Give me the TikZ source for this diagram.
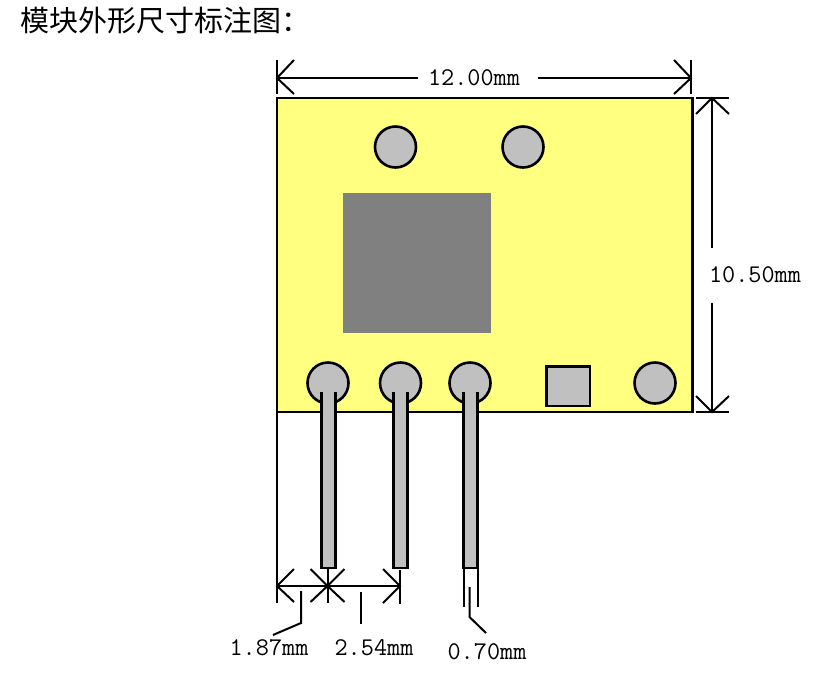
\documentclass[tikz,border=0pt]{standalone}
\usepackage{fontspec}
\newfontfamily\cjk{Noto Sans CJK SC}
\usetikzlibrary{calc}
\definecolor{boardyellow}{HTML}{FFFF80}
\definecolor{padgray}{HTML}{C0C0C0}
\definecolor{chipgray}{HTML}{808080}
\def\barbs(#1)(#2,#3)(#4,#5){\draw[dimline] ($(#1)+(#2,#3)$) -- (#1) -- ($(#1)+(#4,#5)$);}
\tikzset{
	outline/.style={line width=2.6pt, draw=black},
	dimline/.style={line width=2pt, draw=black},
	dimtext/.style={font=\fontsize{25.5}{25.5}\selectfont\ttfamily, inner sep=0pt}
}

\begin{document}
\begin{tikzpicture}[x=1pt, y=-1pt]
	%%%%% FRAME %%%%%
	\useasboundingbox[fill=white] (0, 0) rectangle (840, 672);

	\node[anchor=west, inner sep=0pt, font=\fontsize{29}{29}\selectfont\cjk] (title) at (20, 21) {模块外形尺寸标注图：};

	%%%%% BOARD %%%%%
	\draw[outline, fill=boardyellow] (277, 98) rectangle (692.5, 412);
	\fill[chipgray] (343, 193) rectangle (491, 333);
	\draw[outline, fill=padgray] (546.5, 366.5) rectangle (590, 406);

	\foreach \padx/\pady in {395.5/147, 523/147, 328/383, 400.5/383, 470/383, 655/383}
		\draw[outline, fill=padgray] (\padx, \pady) circle (20.5);

	%%%%% PINS %%%%%
	\foreach \pinl/\pinr in {321.5/335.5, 393.5/407.5, 463.5/477.5} {
		\fill[padgray] (\pinl, 392) rectangle (\pinr, 568);
		\draw[outline] (\pinl, 392) -- (\pinl, 568) -- (\pinr, 568) -- (\pinr, 392);
	}

	%%%%% WIDTH %%%%%
	\coordinate (wl) at (277, 78);
	\coordinate (wr) at (691, 78);
	\coordinate (wgap) at (538, 78);
	\node[dimtext, inner xsep=10pt] (widthtext) at (474, 78) {12.00mm};
	\draw[dimline] (277, 60) -- (277, 94);
	\draw[dimline] (691, 60) -- (691, 94);
	\draw[dimline] (wl) -- (widthtext);
	\draw[dimline] (wr) -- (wgap);
	\barbs(wl)(17,-18)(17,16)
	\barbs(wr)(-17,-18)(-17,16)

	%%%%% HEIGHT %%%%%
	\coordinate (ht) at (712, 98);
	\coordinate (hb) at (712, 412);
	\node[dimtext] (heighttext) at (755, 275) {10.50mm};
	\draw[dimline] (696, 98) -- (729, 98);
	\draw[dimline] (696, 412) -- (729, 412);
	\draw[dimline] (ht) -- (712, 248);
	\draw[dimline] (712, 303) -- (hb);
	\barbs(ht)(-16,16)(17,16)
	\barbs(hb)(-16,-16)(17,-16)

	%%%%% PITCH %%%%%
	\coordinate (pa) at (277, 586);
	\coordinate (pb) at (327.5, 586);
	\coordinate (pc) at (400, 586);
	\draw[dimline] (277, 412) -- (277, 603);
	\draw[dimline] (327.5, 568) -- (327.5, 603);
	\draw[dimline] (400, 570) -- (400, 604);
	\draw[dimline] (pa) -- (pb) -- (pc);
	\barbs(pa)(17,-17)(17,16)
	\barbs(pb)(-17,-17)(-17,16)
	\barbs(pb)(17,-17)(17,16)
	\barbs(pc)(-17,-17)(-17,17)

	%%%%% LEADERS %%%%%
	\node[dimtext] (ptext) at (269, 648) {1.87mm};
	\node[dimtext] (qtext) at (374, 648) {2.54mm};
	\node[dimtext] (rtext) at (487, 652) {0.70mm};
	\draw[dimline] (301, 591) -- (301, 623) -- (273, 635);
	\draw[dimline] (361, 592) -- (361, 623.5);
	\draw[dimline] (463.5, 568) -- (463.5, 607);
	\draw[dimline] (477.5, 568) -- (477.5, 607);
	\draw[dimline] (469.5, 587) -- (469.5, 617) -- (486, 633);
\end{tikzpicture}
\end{document}
